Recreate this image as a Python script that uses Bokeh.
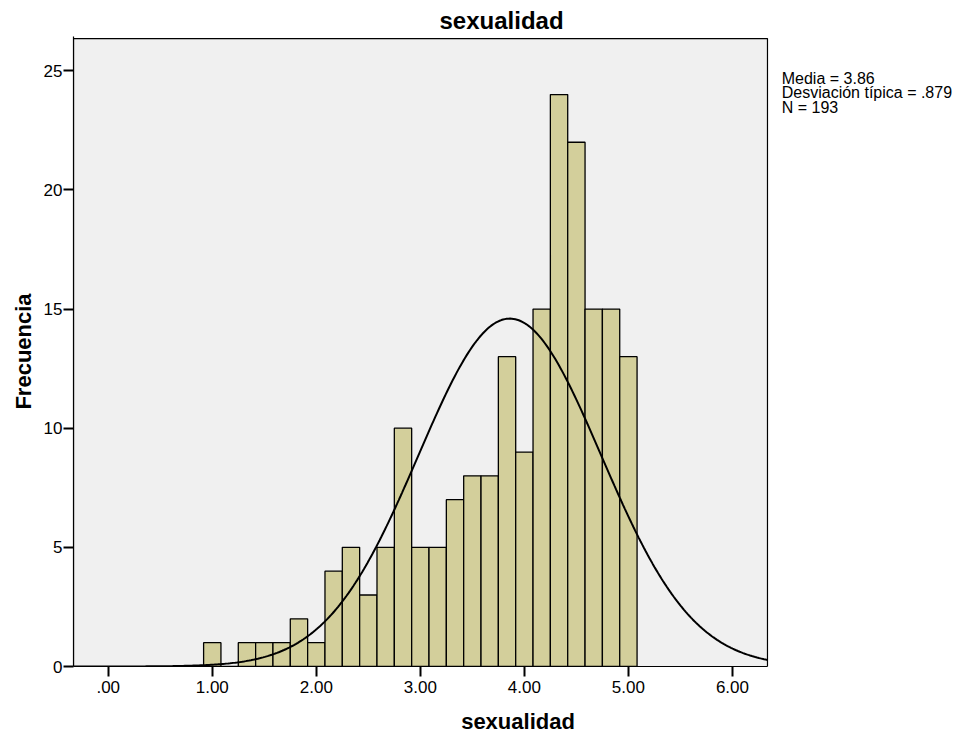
import numpy as np
from bokeh.plotting import figure
from bokeh.models import FixedTicker, Label, Range1d
from bokeh.embed import file_html
from bokeh.resources import INLINE

# ---- data ----
title_text = "sexualidad"
x_label = "sexualidad"
y_label = "Frecuencia"
bin_start = 1.0
bin_width = 1.0 / 6.0
counts = [1, 0, 1, 1, 1, 2, 1, 4, 5, 3, 5, 10, 5, 5, 7, 8, 8, 13, 9, 15, 24, 22, 15, 15, 13]
mean = 3.86
std = 0.879
n_obs = 193
x_ticks = [0, 1, 2, 3, 4, 5, 6]
x_tick_labels = [".00", "1.00", "2.00", "3.00", "4.00", "5.00", "6.00"]
y_ticks = [0, 5, 10, 15, 20, 25]
stats_lines = ["Media = 3.86", "Desviación típica = .879", "N = 193"]

# ---- styling / layout ----
FONT = "Liberation Sans"
BAR_FILL = "#D3CF9B"
BG = "#F0F0F0"
X_MIN, X_MAX = -0.334, 6.337          # visible x extent of the plot area
Y_MAX = 26.35                         # visible y extent of the plot area
PX_PER_X = 104.03
PX_PER_Y = 23.83
FIG_W, FIG_H = 967, 736
BORDER_L, BORDER_R, BORDER_T, BORDER_B = 73, 5, 36, 70

frame_w = FIG_W - BORDER_L - BORDER_R
frame_h = FIG_H - BORDER_T - BORDER_B
x_end = X_MIN + frame_w / PX_PER_X
y_end = frame_h / PX_PER_Y

centers = [bin_start + k * bin_width for k in range(len(counts))]

p = figure(width=FIG_W, height=FIG_H, output_backend="svg", toolbar_location=None,
           x_range=Range1d(X_MIN, x_end), y_range=Range1d(0, y_end),
           min_border_left=BORDER_L, min_border_right=BORDER_R,
           min_border_top=BORDER_T, min_border_bottom=BORDER_B)
p.background_fill_color = "white"
p.border_fill_color = "white"
p.outline_line_color = None
p.xgrid.visible = False
p.ygrid.visible = False

p.title.text = title_text
p.title.align = "left"
p.title.offset = 366
p.title.text_font = FONT
p.title.text_font_style = "bold"
p.title.text_font_size = "24px"
p.title.text_color = "black"
p.title.standoff = 6

# plot-area panel (grey, black outline)
p.quad(left=X_MIN, right=X_MAX, bottom=0, top=Y_MAX,
       fill_color=BG, line_color="black", line_width=1.2)

p.vbar(x=centers, top=counts, width=bin_width, bottom=0,
       fill_color=BAR_FILL, line_color="black", line_width=1.3)

xs = np.linspace(X_MIN, X_MAX, 400)
curve = n_obs * bin_width * np.exp(-0.5 * ((xs - mean) / std) ** 2) / (std * np.sqrt(2 * np.pi))
p.line(xs, curve, line_color="black", line_width=2)

# axes
p.xaxis.ticker = FixedTicker(ticks=x_ticks)
p.xaxis.major_label_overrides = {t: l for t, l in zip(x_ticks, x_tick_labels)}
p.xaxis.bounds = (X_MIN, X_MAX)
p.yaxis.ticker = FixedTicker(ticks=y_ticks)
for ax in (p.xaxis, p.yaxis):
    ax.axis_line_color = "black"
    ax.axis_line_width = 1.2
    ax.major_tick_line_color = "black"
    ax.major_tick_line_width = 2
    ax.major_tick_out = 10
    ax.major_tick_in = 0
    ax.minor_tick_line_color = None
    ax.major_label_text_font = FONT
    ax.major_label_text_font_size = "17px"
    ax.major_label_text_color = "black"
    ax.axis_label_text_font = FONT
    ax.axis_label_text_font_style = "bold"
    ax.axis_label_text_font_size = "22px"
    ax.axis_label_text_color = "black"
p.xaxis.axis_label = x_label
p.yaxis.axis_label = y_label
p.xaxis.major_label_standoff = 4
p.yaxis.major_label_standoff = 1
p.xaxis.axis_label_standoff = 13
p.yaxis.axis_label_standoff = 5

# stats text at right of the plot area
p.add_layout(Label(x=6.474, y=25.04, text="\n".join(stats_lines), text_align="left",
                   text_baseline="top", text_font=FONT, text_font_size="16px",
                   text_line_height=0.86, text_color="black"))

open("out.html", "w").write(file_html(p, INLINE))
